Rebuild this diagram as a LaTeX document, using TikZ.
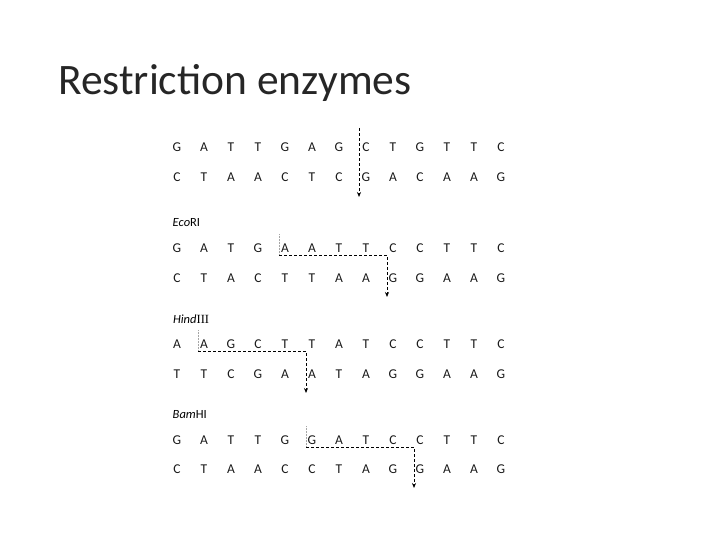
\documentclass[tikz,border=0pt]{standalone}
\usepackage{fontspec}
\setmainfont{Carlito}
\newfontfamily\romanfont{Liberation Serif}
\usetikzlibrary{arrows.meta, calc}
\tikzset{
    base/.style={
        inner sep=0pt, text height=8.5pt, text depth=0pt,
        font=\fontsize{13.5}{13.5}\selectfont, text=black!90
    },
    enzlabel/.style={
        inner sep=0pt, anchor=west, font=\fontsize{12.5}{12.5}\selectfont
    },
    title/.style={
        inner sep=0pt, anchor=base west, font=\fontsize{43.5}{43.5}\selectfont,
        text=black!85
    },
    cutline/.style={-{Stealth[length=5pt, width=4pt]}, line width=0.7pt,
        dash pattern=on 3pt off 2pt},
    siteline/.style={gray!70, densely dotted, line width=0.5pt}
}

\begin{document}
\begin{tikzpicture}[x=1pt, y=-1pt]
\useasboundingbox (0,0) rectangle (720,540);

% Title
\node[title] (title) at (58,95) {Restriction enzymes};

% Sequence 1
\foreach \b [count=\i] in {G,A,T,T,G,A,G,C,T,G,T,T,C}
    \node[base] (s1t\i) at ({177+27*(\i-1)},147) {\b};
\foreach \b [count=\i] in {C,T,A,A,C,T,C,G,A,C,A,A,G}
    \node[base] (s1b\i) at ({177+27*(\i-1)},177) {\b};

% EcoRI
\foreach \b [count=\i] in {G,A,T,G,A,A,T,T,C,C,T,T,C}
    \node[base] (s2t\i) at ({177+27*(\i-1)},248) {\b};
\foreach \b [count=\i] in {C,T,A,C,T,T,A,A,G,G,A,A,G}
    \node[base] (s2b\i) at ({177+27*(\i-1)},278) {\b};
\node[enzlabel] (lab2) at ($(s2t1.west)+(0,-25)$) {\textit{Eco}RI};

% HindIII
\foreach \b [count=\i] in {A,A,G,C,T,T,A,T,C,C,T,T,C}
    \node[base] (s3t\i) at ({177+27*(\i-1)},344) {\b};
\foreach \b [count=\i] in {T,T,C,G,A,A,T,A,G,G,A,A,G}
    \node[base] (s3b\i) at ({177+27*(\i-1)},374) {\b};
\node[enzlabel] (lab3) at ($(s3t1.west)+(0,-25)$) {\textit{Hind}{\romanfont III}};

% BamHI
\foreach \b [count=\i] in {G,A,T,T,G,G,A,T,C,C,T,T,C}
    \node[base] (s4t\i) at ({177+27*(\i-1)},440) {\b};
\foreach \b [count=\i] in {C,T,A,A,C,C,T,A,G,G,A,A,G}
    \node[base] (s4b\i) at ({177+27*(\i-1)},469) {\b};
\node[enzlabel] (lab4) at ($(s4t1.west)+(0,-25)$) {\textit{Bam}HI};

% Cut points
\coordinate (c1top) at ($(s1t8)+(-7,-19)$);
\coordinate (c1tip) at ($(s1b8)+(-7,20)$);
\coordinate (c2a) at ($(s2t5)+(-6,-14)$);
\coordinate (c2b) at ($(s2t5)+(-6,7)$);
\coordinate (c2tip) at ($(s2b9)+(-6,19)$);
\coordinate (c3a) at ($(s3t2)+(-6,-14)$);
\coordinate (c3b) at ($(s3t2)+(-6,7)$);
\coordinate (c3tip) at ($(s3b6)+(-6,19)$);
\coordinate (c4a) at ($(s4t6)+(-6,-14)$);
\coordinate (c4b) at ($(s4t6)+(-6,7)$);
\coordinate (c4tip) at ($(s4b10)+(-6,19)$);

% Cut lines
\draw[cutline] (c1top) -- (c1tip);
\draw[siteline] (c2a) -- (c2b);
\draw[cutline] (c2b) -| (c2tip);
\draw[siteline] (c3a) -- (c3b);
\draw[cutline] (c3b) -| (c3tip);
\draw[siteline] (c4a) -- (c4b);
\draw[cutline] (c4b) -| (c4tip);

\end{tikzpicture}
\end{document}
